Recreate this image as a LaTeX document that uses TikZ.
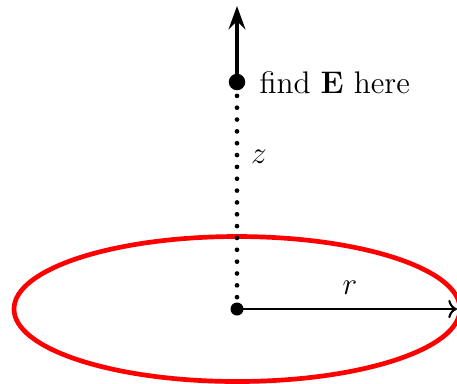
\documentclass[tikz,border=0pt]{standalone}
\usetikzlibrary{arrows.meta}
\begin{document}
\begin{tikzpicture}[x=0.0135cm, y=-0.0135cm,
  dotnode/.style={circle, fill=black, inner sep=0pt},
  lbl/.style={font=\fontsize{12}{14}\selectfont, inner sep=0pt},
  ring/.style={red, line width=1.8pt},
  zline/.style={line width=1.8pt, line cap=round, dash pattern=on 0pt off 4.55pt},
  uparrow/.style={line width=1.2pt, -{Stealth[length=9pt, width=6.5pt, inset=3.2pt]}},
  rarrow/.style={line width=0.8pt, ->}]
\useasboundingbox (0,0) rectangle (457,383);
\coordinate (C) at (237,309);
\coordinate (T) at (237,6);
\coordinate (R) at (457,309);
\draw[ring] (C) ellipse [x radius=223, y radius=72.5];
\node[dotnode, minimum size=16.5*0.0135cm] (P) at (237,82) {};
\node[dotnode, minimum size=13*0.0135cm] (O) at (C) {};
\draw[zline] (O.center) -- (P.center);
\draw[uparrow] (P.center) -- (T);
\draw[rarrow] (O.center) -- (R);
\node[lbl, anchor=west] (F) at (259,83) {find \textbf{E} here};
\node[lbl] (Z) at (259,157) {$z$};
\node[lbl] (RL) at (350,288) {$r$};
\end{tikzpicture}
\end{document}
